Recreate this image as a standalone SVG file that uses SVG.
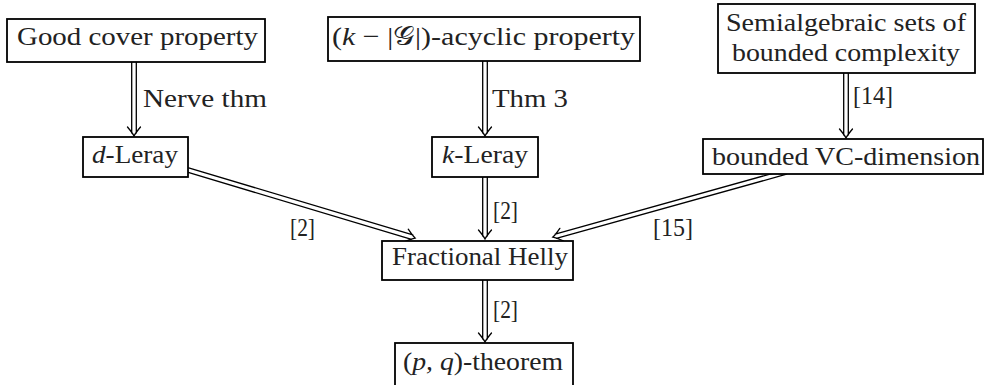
<svg xmlns="http://www.w3.org/2000/svg" width="985" height="385" viewBox="0 0 985 385">
<style>
.box{fill:#fff;stroke:#000;stroke-width:1.8}
.t{font-family:'Liberation Serif','Times New Roman',serif;font-size:26px;fill:#222}
.i{font-style:italic}
.cal{font-family:'DejaVu Serif','Noto Sans',serif;font-style:normal}
.arr{fill:none;stroke:#000;stroke-width:1.3;stroke-linecap:round}
</style>
<rect width="985" height="385" fill="#fff"/>
<g id="connectors">
<path class="arr" transform="translate(134,62) rotate(90)" d="M0 -2.3H71M0 2.3H71M65 -6.5Q71 -1.5 74 0Q71 1.5 65 6.5"/>
<path class="arr" transform="translate(485,61) rotate(90)" d="M0 -2.3H72M0 2.3H72M66 -6.5Q72 -1.5 75 0Q72 1.5 66 6.5"/>
<path class="arr" transform="translate(846,73) rotate(90)" d="M0 -2.3H62M0 2.3H62M56 -6.5Q62 -1.5 65 0Q62 1.5 56 6.5"/>
<path class="arr" transform="translate(485,177) rotate(90)" d="M0 -2.3H59M0 2.3H59M53 -6.5Q59 -1.5 62 0Q59 1.5 53 6.5"/>
<path class="arr" transform="translate(485,280) rotate(90)" d="M0 -2.3H59M0 2.3H59M53 -6.5Q59 -1.5 62 0Q59 1.5 53 6.5"/>
<path class="arr" transform="translate(188,170) rotate(16.68)" d="M0 -2.3H234M0 2.3H234M228 -6.5Q234 -1.5 237 0Q234 1.5 228 6.5"/>
<path class="arr" transform="translate(786,172) rotate(164.41)" d="M0 -2.3H239M0 2.3H239M233 -6.5Q239 -1.5 242 0Q239 1.5 233 6.5"/>
<text class="t" x="143" y="107" textLength="124" lengthAdjust="spacingAndGlyphs">Nerve thm</text>
<text class="t" x="492" y="107" textLength="76" lengthAdjust="spacingAndGlyphs">Thm 3</text>
<text class="t" x="853" y="104" textLength="40" lengthAdjust="spacingAndGlyphs">[14]</text>
<text class="t" x="290" y="236" textLength="25" lengthAdjust="spacingAndGlyphs">[2]</text>
<text class="t" x="493" y="219" textLength="25" lengthAdjust="spacingAndGlyphs">[2]</text>
<text class="t" x="653" y="236" textLength="40" lengthAdjust="spacingAndGlyphs">[15]</text>
<text class="t" x="493" y="318" textLength="25" lengthAdjust="spacingAndGlyphs">[2]</text>
</g>
<g id="good-cover"><rect class="box" x="7" y="19" width="258" height="43"/><text class="t" x="17" y="45" textLength="241" lengthAdjust="spacingAndGlyphs">Good cover property</text></g>
<g id="acyclic"><rect class="box" x="328" y="17" width="312" height="44"/><text class="t" x="332" y="45" textLength="303" lengthAdjust="spacingAndGlyphs">(<tspan class="i">k</tspan> &#x2212; |<tspan class="cal">&#x1D4A2;</tspan>|)-acyclic property</text></g>
<g id="semialgebraic"><rect class="box" x="718" y="4" width="257" height="69"/><text class="t" x="726" y="31" textLength="240" lengthAdjust="spacingAndGlyphs">Semialgebraic sets of</text><text class="t" x="732" y="61" textLength="228" lengthAdjust="spacingAndGlyphs">bounded complexity</text></g>
<g id="d-leray"><rect class="box" x="83" y="137" width="105" height="40"/><text class="t" x="92" y="163" textLength="86" lengthAdjust="spacingAndGlyphs"><tspan class="i">d</tspan>-Leray</text></g>
<g id="k-leray"><rect class="box" x="432" y="137" width="106" height="40"/><text class="t" x="442" y="163" textLength="86" lengthAdjust="spacingAndGlyphs"><tspan class="i">k</tspan>-Leray</text></g>
<g id="vc-dim"><rect class="box" x="703" y="139" width="280" height="35"/><text class="t" x="712" y="165" textLength="268" lengthAdjust="spacingAndGlyphs">bounded VC-dimension</text></g>
<g id="fractional-helly"><rect class="box" x="382" y="241" width="191" height="39"/><text class="t" x="392" y="265" textLength="176" lengthAdjust="spacingAndGlyphs">Fractional Helly</text></g>
<g id="pq-theorem"><rect class="box" x="395" y="343" width="178" height="50"/><text class="t" x="403" y="370" textLength="160" lengthAdjust="spacingAndGlyphs">(<tspan class="i">p, q</tspan>)-theorem</text></g>
</svg>
